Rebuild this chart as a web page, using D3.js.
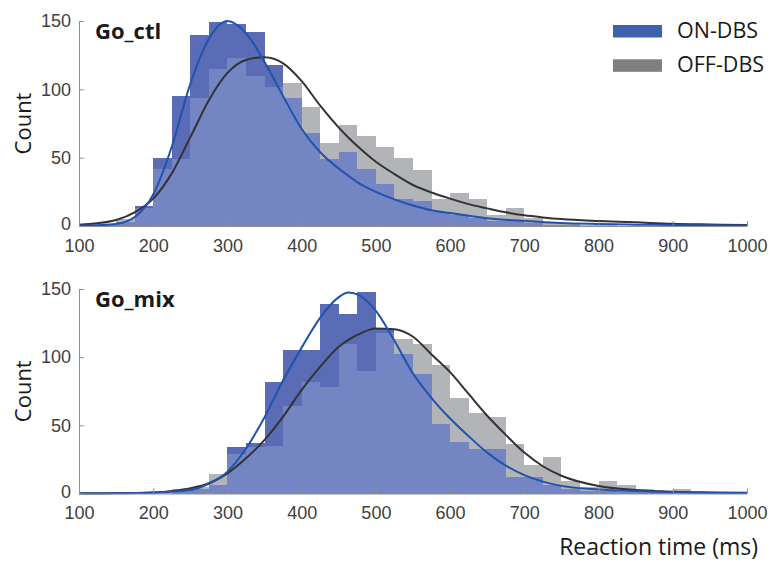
<!DOCTYPE html>
<html><head><meta charset="utf-8">
<script src="https://cdn.jsdelivr.net/npm/d3@7"></script>
<style>body{margin:0;background:#fff} svg{display:block}</style>
</head><body>
<svg id="chart" width="774" height="562"></svg>
<script>
// ---------- data ----------
const binWidth = 25;
const xTicks = [100, 200, 300, 400, 500, 600, 700, 800, 900, 1000];
const yTicks = [0, 50, 100, 150];
const seriesNames = ["ON-DBS", "OFF-DBS"];
const panelTitles = ["Go_ctl", "Go_mix"];

// Go_ctl histogram (bin start, counts)
const ctlBinStarts = [125,150,175,200,225,250,275,300,325,350,375,400,425,450,475,500,525,550,575,600,625,650,675,700,725,750,775,800];
const ctlOn  = [1,3,15,50,95,140,149,148,142,118,94,68,49,54,42,31,20,18,10,8,6,4,4,2,1,1,0,0];
const ctlOff = [1,5,13,42,49,94,115,123,110,102,105,87,61,74,66,58,50,41,20,24,20,8,13,6,3,2,1,1];

// Go_mix histogram
const mixBinStarts = [200,225,250,275,300,325,350,375,400,425,450,475,500,525,550,575,600,625,650,675,700,725,750,775,800,825,850,875,900,925];
const mixOn  = [0,2,3,6,34,37,82,105,105,139,132,148,121,102,88,51,38,33,33,12,12,6,3,2,2,1,1,1,0,0];
const mixOff = [1,3,5,14,29,34,35,64,82,78,110,90,118,113,110,94,70,59,56,36,21,27,9,5,9,6,3,2,3,1];

// fitted curves at these reaction times
const fitX = [100,125,150,175,200,225,250,275,300,325,350,375,400,425,450,462.5,475,500,525,550,575,600,625,650,675,700,725,750,800,850,900,950,1000];
const ctlOnFit  = [0.3,0.6,1.5,6.5,23,58,104,137,150,141,120,95,71,54,42,37,32,25,19.5,15,11.5,9.5,7.5,5.6,4.5,3.7,2.9,2.2,1.5,1,0.7,0.5,0.3];
const ctlOffFit = [1,2,4.4,10,20,38.5,65,92,112,121.5,123.5,119,106,88,72,65,58.5,47,38,30,24.5,20,16,12.9,10,7.8,6.3,5.1,3.7,2.7,1.6,1.1,0.7];
const mixOnFit  = [0,0,0.1,0.3,0.9,1.5,2.6,7,16,33,56,83,107,129,144,147.5,146,134,112,88,70,55,42,30,20.5,13.5,8.7,5.6,3,1.8,0.9,0.5,0.3];
const mixOffFit = [0.1,0.2,0.3,0.4,0.6,1.8,3.8,7.5,14.8,25.8,39.3,56.4,76,93,107.7,112.5,116.3,121,120.5,115,102,89,73,57,43,30,20,13,5.5,2.6,1.3,0.8,0.5];

// ---------- styles ----------
const COL = {
  blueOnly: "#5a6cb5",
  overlap: "#7385c2",
  grayOnly: "#b3b4b7",
  legendBlue: "#4060ad",
  legendGray: "#7f7f81",
  blueLine: "#2152ae",
  blackLine: "#333333",
  axis: "#8f8f8f",
  tickText: "#404040",
  text: "#1a1a1a"
};
const TICK_FONT = "'Liberation Sans', Arial, sans-serif";
const LABEL_FONT = "'Open Sans', 'Noto Sans', sans-serif";

const svg = d3.select("#chart");
svg.append("rect").attr("width", 774).attr("height", 562).attr("fill", "#fff");

const x = d3.scaleLinear().domain([100, 1000]).range([79, 747]);

const panels = [
  {title: panelTitles[0], starts: ctlBinStarts, on: ctlOn, off: ctlOff, onFit: ctlOnFit, offFit: ctlOffFit, yBottom: 226, yTop: 21, titleY: 38.5},
  {title: panelTitles[1], starts: mixBinStarts, on: mixOn, off: mixOff, onFit: mixOnFit, offFit: mixOffFit, yBottom: 493.5, yTop: 289, titleY: 306.5}
];

panels.forEach(p => {
  const y = d3.scaleLinear().domain([0, 150]).range([p.yBottom, p.yTop]);
  const g = svg.append("g");
  const bins = p.starts.map((s, i) => ({s, on: p.on[i], off: p.off[i]}));

  const bars = (val, fill) => g.append("g").selectAll("rect")
    .data(bins).join("rect")
    .attr("x", d => x(d.s))
    .attr("width", d => x(d.s + binWidth) - x(d.s))
    .attr("y", d => y(val(d)))
    .attr("height", d => y(0) - y(val(d)))
    .attr("fill", fill)
    .attr("shape-rendering", "crispEdges");

  bars(d => d.off, COL.grayOnly);
  bars(d => d.on, COL.blueOnly);
  bars(d => Math.min(d.on, d.off), COL.overlap);

  const line = d3.line().x(d => x(d[0])).y(d => y(d[1])).curve(d3.curveMonotoneX);
  g.append("path").datum(fitX.map((v, i) => [v, p.offFit[i]]))
    .attr("d", line).attr("fill", "none").attr("stroke", COL.blackLine).attr("stroke-width", 2);
  g.append("path").datum(fitX.map((v, i) => [v, p.onFit[i]]))
    .attr("d", line).attr("fill", "none").attr("stroke", COL.blueLine).attr("stroke-width", 2);

  // axes
  const xa = g.append("g").attr("transform", `translate(0,${p.yBottom})`)
    .call(d3.axisBottom(x).tickValues(xTicks).tickFormat(d3.format("d"))
      .tickSize(-5).tickSizeOuter(0).tickPadding(13));
  const ya = g.append("g").attr("transform", `translate(79,0)`)
    .call(d3.axisLeft(y).tickValues(yTicks).tickFormat(d3.format("d"))
      .tickSize(-5).tickSizeOuter(0).tickPadding(8));
  [xa, ya].forEach(a => {
    a.select(".domain").attr("stroke", COL.axis);
    a.selectAll(".tick line").attr("stroke", COL.axis);
    a.selectAll(".tick text").attr("fill", COL.tickText).style("font-family", TICK_FONT).style("font-size", "18px");
  });
  // lift the "0" y label slightly so it clears the x tick label below it
  ya.selectAll(".tick text").filter(d => d === 0).attr("dy", "0.22em");

  // y label
  svg.append("text")
    .attr("transform", `translate(31,${(p.yTop + p.yBottom) / 2}) rotate(-90)`)
    .attr("text-anchor", "middle")
    .style("font-family", LABEL_FONT).style("font-size", "22px").attr("fill", COL.text)
    .text("Count");

  // panel title
  svg.append("text").attr("x", 95).attr("y", p.titleY)
    .style("font-family", LABEL_FONT).style("font-size", "22px").style("font-weight", "bold").attr("fill", COL.text)
    .text(p.title);
});

// legend
const legend = svg.append("g");
[[seriesNames[0], COL.legendBlue, 25, 38], [seriesNames[1], COL.legendGray, 59.3, 72]].forEach(([name, c, ry, ty]) => {
  legend.append("rect").attr("x", 613).attr("y", ry).attr("width", 49).attr("height", 12.5).attr("fill", c);
  legend.append("text").attr("x", 677).attr("y", ty)
    .style("font-family", LABEL_FONT).style("font-size", "21.5px").attr("fill", COL.text).text(name);
});

// x label
svg.append("text").attr("x", 758).attr("y", 555).attr("text-anchor", "end")
  .style("font-family", LABEL_FONT).style("font-size", "23px").attr("fill", COL.text)
  .text("Reaction time (ms)");
</script>
</body></html>
